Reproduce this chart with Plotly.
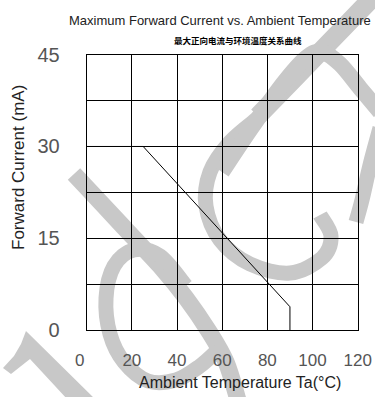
import plotly.graph_objects as go

W, H = 375, 397

# Derating curve: maximum forward current vs ambient temperature
temps = [0, 25, 90, 90]
current = [30, 30, 3.8, 0]

x_ticks = [0, 20, 40, 60, 80, 100, 120]
x_tick_labels = ["0\u00a0\u00a0\u00a0", "20", "40", "60", "80", "100", "120"]
y_ticks = [0, 7.5, 15, 22.5, 30, 37.5, 45]
y_tick_labels = ["0", "", "15", "", "30", "", "45"]

title_en = "Maximum Forward Current vs. Ambient Temperature"
title_cn = "最大正向电流与环境温度关系曲线"
x_title = "Ambient Temperature Ta(°C)"
y_title = "Forward Current (mA)"

# plot frame in figure pixels
X0, X1 = 86.7, 357.7
Y0, Y1 = 54.7, 330.0


def px(x, y):
    return x / W, 1 - y / H


def smooth_path(pts):
    """Catmull-Rom spline through pixel points, as an SVG path in paper units."""
    def f(p):
        a, b = px(*p)
        return f"{a:.4f},{b:.4f}"
    d = "M" + f(pts[0])
    n = len(pts)
    for i in range(n - 1):
        p0 = pts[i - 1] if i > 0 else pts[i]
        p1, p2 = pts[i], pts[i + 1]
        p3 = pts[i + 2] if i + 2 < n else pts[i + 1]
        c1 = (p1[0] + (p2[0] - p0[0]) / 6, p1[1] + (p2[1] - p0[1]) / 6)
        c2 = (p2[0] - (p3[0] - p1[0]) / 6, p2[1] - (p3[1] - p1[1]) / 6)
        d += " C" + f(c1) + " " + f(c2) + " " + f(p2)
    return d


def poly_path(pts):
    return "M" + " L".join("{:.4f},{:.4f}".format(*px(*p)) for p in pts) + " Z"


WM = "rgb(200,200,200)"
wm_strokes = [
    ([(74, 174), (104, 206), (132, 236), (160, 266), (186, 298), (208, 330), (226, 362), (238, 400)], 17),
    ([(186, 286), (160, 256), (134, 250), (114, 266), (106, 298), (110, 334), (124, 362), (148, 381), (176, 380), (200, 366), (218, 350)], 15),
    ([(380, -10), (320, 52), (258, 116)], 19),
    ([(258, 118), (230, 142), (210, 172), (206, 206), (220, 240), (250, 264), (290, 273), (322, 258), (331, 236), (320, 215)], 15),
    ([(222, 172), (250, 130), (282, 85), (306, 58), (322, 52), (340, 64), (360, 88), (380, 112)], 16),
    ([(380, 128), (370, 165), (362, 200), (356, 222)], 15),
]
wm_flag = [(26, 331), (96, 400), (68, 400), (30, 359), (11, 374), (3, 368), (14, 356), (21, 344)]

shapes = []
for pts, w in wm_strokes:
    shapes.append(dict(type="path", xref="paper", yref="paper", layer="below",
                       path=smooth_path(pts), line=dict(color=WM, width=w),
                       fillcolor="rgba(0,0,0,0)"))
shapes.append(dict(type="path", xref="paper", yref="paper", layer="below",
                   path=poly_path(wm_flag), line=dict(width=0), fillcolor=WM))

fig = go.Figure()
fig.add_trace(go.Scatter(x=temps, y=current, mode="lines",
                         line=dict(color="#000", width=1), hoverinfo="skip"))

font_lat = "Liberation Sans, Arial, sans-serif"


def label(text, x, y, size, family=font_lat, color="#222", angle=0):
    ax, ay = px(x, y)
    return dict(text=text, x=ax, y=ay, xref="paper", yref="paper", showarrow=False,
                xanchor="center", yanchor="middle", textangle=angle,
                font=dict(family=family, size=size, color=color))


fig.update_layout(
    width=W, height=H,
    margin=dict(l=0, r=0, t=0, b=0, autoexpand=False),
    paper_bgcolor="white", plot_bgcolor="rgba(0,0,0,0)",
    showlegend=False,
    shapes=shapes,
    xaxis=dict(domain=[X0 / W, X1 / W], range=[0, 120], tickvals=x_ticks,
               ticktext=x_tick_labels, ticks="", showgrid=True, gridcolor="#000",
               gridwidth=1, showline=True, linecolor="#000", linewidth=1, mirror=True,
               zeroline=False, ticklabelstandoff=15, automargin=False,
               tickfont=dict(family=font_lat, size=17, color="#555")),
    yaxis=dict(domain=[1 - Y1 / H, 1 - Y0 / H], range=[0, 45], tickvals=y_ticks,
               ticktext=y_tick_labels, ticks="", showgrid=True, gridcolor="#000",
               gridwidth=1, showline=True, linecolor="#000", linewidth=1, mirror=True,
               zeroline=False, ticklabelstandoff=22, automargin=False,
               tickfont=dict(family=font_lat, size=20, color="#555")),
    annotations=[
        label(title_en, 220.3, 21, 13),
        label("<b>" + title_cn + "</b>", 238, 40, 8.5, family="Noto Sans CJK SC", color="#000"),
        label(x_title, 239.5, 382, 16),
        label(y_title, 18.5, 167.5, 17, angle=-90),
    ],
)

fig.write_html("out.html")
